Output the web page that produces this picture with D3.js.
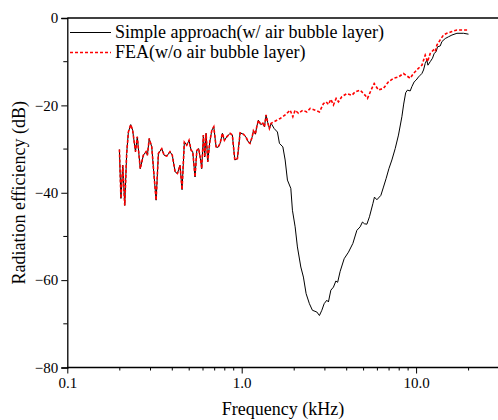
<!DOCTYPE html>
<html>
<head>
<meta charset="utf-8">
<script src="https://cdn.jsdelivr.net/npm/d3@7/dist/d3.min.js"></script>
<style>
  body { margin: 0; background: #fff; }
  svg { display: block; }
  svg text { font-family: 'Liberation Serif', 'Times New Roman', Times, 'DejaVu Serif', serif; }
</style>
</head>
<body>
<svg id="chart" width="498" height="420"></svg>
<script>
// shared low-frequency part (both curves coincide), kHz / dB
const freqLow = [0.199, 0.203, 0.208, 0.2135, 0.219, 0.224, 0.231, 0.237, 0.246, 0.252,
  0.262, 0.273, 0.283, 0.288, 0.295, 0.305, 0.313, 0.323, 0.333, 0.348,
  0.359, 0.372, 0.388, 0.400, 0.415, 0.428, 0.443, 0.455, 0.469, 0.484,
  0.499, 0.513, 0.524, 0.540, 0.553, 0.567, 0.580, 0.590, 0.603, 0.614,
  0.625, 0.639, 0.656, 0.674, 0.692, 0.713, 0.732, 0.752, 0.775, 0.796,
  0.821, 0.858, 0.884, 0.913, 0.945, 0.979, 1.023, 1.056, 1.093, 1.117,
  1.147, 1.167, 1.198, 1.221, 1.247, 1.287, 1.322, 1.350, 1.380, 1.412,
  1.442, 1.475]
const lowDb = [-30.1, -41.3, -33.7, -42.9, -31.0, -26.1, -24.4, -25.7, -30.6, -27.2,
  -34.5, -31.4, -30.6, -31.4, -27.6, -29.5, -35.2, -41.7, -31.0, -29.9,
  -31.4, -31.6, -30.6, -31.4, -35.2, -35.6, -33.7, -39.3, -28.4, -29.1,
  -28.0, -30.3, -30.6, -36.4, -30.3, -29.9, -32.2, -34.5, -26.8, -31.8,
  -26.4, -32.9, -28.4, -25.7, -24.9, -29.5, -29.6, -28.7, -26.4, -28.0,
  -27.2, -26.4, -26.8, -32.5, -32.2, -26.3, -26.6, -27.2, -28.4, -28.7,
  -27.3, -25.8, -26.6, -24.8, -23.4, -24.4, -24.1, -24.9, -22.2, -24.0,
  -25.3, -24.1]

// simple approach (w/ air bubble layer), above 1.5 kHz
const freqSimple = [1.535, 1.603, 1.646, 1.722, 1.775, 1.829, 1.913, 1.954, 2.025, 2.087,
  2.183, 2.259, 2.341, 2.445, 2.544, 2.697, 2.791, 2.881, 2.970, 3.077,
  3.143, 3.245, 3.358, 3.467, 3.550, 3.669, 3.869, 4.095, 4.340, 4.575,
  4.779, 4.926, 5.058, 5.221, 5.403, 5.651, 5.772, 5.959, 6.281, 6.501,
  6.737, 6.982, 7.264, 7.588, 7.925, 8.289, 8.489, 8.717, 8.926, 9.250,
  9.461, 9.752, 10.01, 10.32, 10.56, 10.80, 11.03, 11.28, 11.53, 11.69,
  12.05, 12.42, 12.70, 13.04, 13.27, 13.75, 14.06, 14.69, 15.34, 16.05,
  17.15, 18.71, 19.98]
const simpleDb = [-25.3, -26.1, -28.7, -29.5, -32.5, -37.1, -39.0, -44.0, -47.8, -52.4,
  -57.0, -59.3, -63.1, -65.4, -66.9, -67.3, -68.1, -66.9, -65.4, -64.6,
  -65.0, -62.3, -61.6, -60.2, -60.5, -58.0, -55.1, -53.6, -51.6, -48.6,
  -47.8, -46.7, -47.1, -47.2, -45.5, -42.5, -41.0, -41.6, -40.6, -38.7,
  -36.7, -34.5, -32.5, -29.9, -26.8, -22.6, -19.7, -17.1, -16.5, -16.7,
  -15.7, -14.6, -14.2, -13.5, -13.1, -12.7, -11.9, -10.4, -9.6, -10.8,
  -10.0, -9.2, -8.1, -7.7, -6.6, -6.4, -5.4, -4.7, -4.3, -3.9,
  -3.5, -3.5, -3.7]

// FEA (w/o air bubble layer), above 1.5 kHz
const freqFea = [1.590, 1.661, 1.775, 1.896, 1.965, 2.025, 2.115, 2.241, 2.363, 2.469,
  2.637, 2.791, 2.943, 3.050, 3.143, 3.245, 3.358, 3.480, 3.588, 3.753,
  4.009, 4.282, 4.473, 4.779, 5.105, 5.263, 5.577, 5.751, 6.086, 6.501,
  6.945, 7.421, 7.925, 8.467, 9.250, 9.663, 10.32, 10.80, 11.28, 11.63,
  12.05, 12.59, 12.88, 13.16, 13.75, 14.36, 15.02, 16.05, 17.15, 18.31,
  19.98]
const feaDb = [-23.4, -23.0, -22.2, -21.1, -22.6, -21.1, -21.8, -21.1, -21.5, -20.7,
  -21.1, -21.5, -19.6, -19.2, -19.8, -18.6, -19.9, -18.4, -19.2, -18.0,
  -17.3, -17.7, -16.9, -16.5, -17.7, -18.4, -16.1, -15.0, -16.5, -16.1,
  -14.6, -13.8, -13.5, -12.7, -13.8, -12.7, -11.5, -10.8, -8.5, -10.0,
  -8.1, -7.3, -7.7, -6.2, -5.0, -3.9, -3.5, -3.1, -2.75, -2.75,
  -2.75]

const xTickLabels = [0.1, 1, 10]
const yTicks = [0, -20, -40, -60, -80]
const seriesNames = ['Simple approach(w/ air bubble layer)', 'FEA(w/o air bubble layer)']

const serif = "'Liberation Serif', 'Times New Roman', Times, 'DejaVu Serif', serif"
const svg = d3.select('#chart')
const margin = { left: 67.3, top: 18, bottom: 367.5 }

const xScale = d3.scaleLog().domain([0.1, 30]).range([margin.left, 499.3])
const yScale = d3.scaleLinear().domain([-80, 0]).range([margin.bottom, margin.top])

const pts = (fs, vs) => fs.map((f, i) => [f, vs[i]])
const simpleData = pts(freqLow, lowDb).concat(pts(freqSimple, simpleDb))
const feaData = pts(freqLow, lowDb).concat(pts(freqFea, feaDb))

const line = d3.line()
  .x(d => xScale(d[0]))
  .y(d => yScale(d[1]))

// curves
svg.append('path')
  .datum(simpleData)
  .attr('d', line)
  .attr('fill', 'none')
  .attr('stroke', '#000')
  .attr('stroke-width', 1)

svg.append('path')
  .datum(feaData)
  .attr('d', line)
  .attr('fill', 'none')
  .attr('stroke', '#ff0000')
  .attr('stroke-width', 1.6)
  .attr('stroke-dasharray', '3,2')

// frame top line
svg.append('line')
  .attr('x1', margin.left).attr('x2', 498)
  .attr('y1', margin.top).attr('y2', margin.top)
  .attr('stroke', '#000').attr('stroke-width', 1.3)

// x axis
const minorX = []
for (const dec of [0.1, 1, 10]) {
  for (let k = 2; k <= 9; k++) {
    const v = dec * k
    if (v <= 30) minorX.push(v)
  }
}
const xAxis = svg.append('g')
  .attr('transform', 'translate(0,' + margin.bottom + ')')
xAxis.call(d3.axisBottom(xScale).tickValues(xTickLabels).tickSize(6).tickPadding(4)
  .tickFormat(d3.format('.1f')))
xAxis.append('g').selectAll('line')
  .data(minorX)
  .enter()
  .append('line')
  .attr('x1', d => xScale(d)).attr('x2', d => xScale(d))
  .attr('y1', 0).attr('y2', 3)
  .attr('stroke', '#000')
xAxis.select('.domain').attr('d', 'M' + margin.left + ',0H498')

// y axis
const yAxis = svg.append('g')
  .attr('transform', 'translate(' + margin.left + ',0)')
yAxis.call(d3.axisLeft(yScale).tickValues(yTicks).tickSize(6).tickPadding(3)
  .tickFormat(d => d === 0 ? '0' : '\u2212' + Math.abs(d)))
yAxis.append('g').selectAll('line')
  .data([-10, -30, -50, -70])
  .enter()
  .append('line')
  .attr('x1', -4).attr('x2', 0)
  .attr('y1', d => yScale(d)).attr('y2', d => yScale(d))
  .attr('stroke', '#000')

svg.selectAll('.domain').attr('stroke-width', 1.3)
svg.selectAll('.tick line').attr('stroke-width', 1)
xAxis.attr('font-family', serif).attr('font-size', 15)
yAxis.attr('font-family', serif).attr('font-size', 15)
svg.selectAll('.tick text').attr('fill', '#000')

// axis titles
svg.append('text')
  .attr('x', 283).attr('y', 415)
  .attr('text-anchor', 'middle')
  .attr('font-family', serif)
  .attr('font-size', 18)
  .text('Frequency (kHz)')

svg.append('text')
  .attr('transform', 'translate(25,' + ((margin.top + margin.bottom) / 2) + ') rotate(-90)')
  .attr('text-anchor', 'middle')
  .attr('font-family', serif)
  .attr('font-size', 18)
  .text('Radiation efficiency (dB)')

// legend
const legend = svg.append('g')
const legendStyles = [
  { stroke: '#000', width: 1, dash: null },
  { stroke: '#ff0000', width: 1.6, dash: '3,2' }
]
seriesNames.forEach((name, i) => {
  const y = 32.5 + i * 20
  legend.append('line')
    .attr('x1', 70).attr('x2', 111)
    .attr('y1', y).attr('y2', y)
    .attr('stroke', legendStyles[i].stroke)
    .attr('stroke-width', legendStyles[i].width)
    .attr('stroke-dasharray', legendStyles[i].dash)
  legend.append('text')
    .attr('x', 115).attr('y', y + 5.5)
    .attr('font-family', serif)
    .attr('font-size', 18)
    .text(name)
})
</script>
</body>
</html>
